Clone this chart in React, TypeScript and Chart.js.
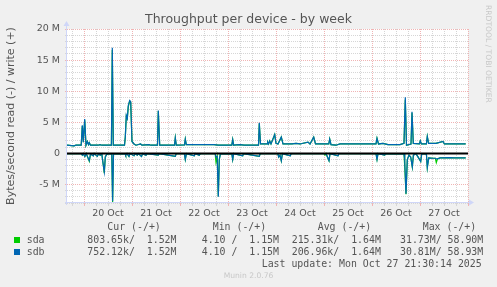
import React, { useEffect, useRef } from 'react';
import { Chart, registerables } from 'chart.js';

Chart.register(...registerables);

// ---- data (hours since 19 Oct 00:00, values in M bytes/s) ----
const writeHours = [
  15.5, 19, 20, 22.6, 23.15, 23.65, 24.35, 25, 25.65, 26.25, 26.65, 27.25, 31, 32, 33,
  37.7, 38.15, 38.65, 44.25, 44.65, 45.15, 45.65, 46.15, 46.85, 47.35, 48, 49, 50,
  52.3, 53, 56.5, 57.5, 60.75, 61.15, 61.85, 66, 69.25, 69.65, 70.15, 74.25, 74.65,
  75.15, 89, 91, 97.9, 98.35, 98.8, 102, 104, 111.25, 111.65, 112.25, 115.5, 115.85,
  116.3, 116.85, 117.5, 119.35, 120, 121, 122.65, 123.5, 128, 130, 132, 136, 137,
  138.85, 139.75, 146.4, 146.85, 147.5, 150, 152, 170, 170.5, 171.25, 173.5, 176,
  182, 184, 184.65, 185.25, 187.5, 188, 188.65, 191.7, 192.15, 192.7, 195.2, 195.65,
  196.3, 200, 203.5, 204.2, 214.85,
];
const sdbWrite = [
  1.3, 1.2, 1.3, 1.3, 4.5, 1.8, 5.5, 1.3, 1.9, 1.4, 1.7, 1.3, 1.3, 1.4, 1.3,
  1.3, 17.0, 1.3, 1.3, 2.6, 6.1, 5.6, 7.7, 8.5, 8.3, 1.9, 1.5, 1.3,
  1.5, 1.3, 1.4, 1.3, 1.3, 6.9, 1.3, 1.3, 1.3, 2.5, 1.3, 1.35, 2.3,
  1.4, 1.4, 1.3, 1.3, 2.2, 1.3, 1.4, 1.3, 1.3, 4.9, 1.5, 1.5, 1.8,
  1.5, 2.0, 1.5, 3.0, 1.6, 1.5, 2.6, 1.5, 1.5, 1.6, 1.5, 1.8, 1.5,
  2.6, 1.5, 1.5, 2.3, 1.4, 1.3, 1.5, 1.5, 2.4, 1.5, 1.6, 1.4,
  1.4, 1.6, 9.0, 1.3, 1.5, 6.7, 1.6, 1.5, 2.0, 1.5, 1.5, 2.7,
  1.6, 1.6, 1.9, 1.5, 1.5,
];
const sdaWrite = [
  1.3, 1.2, 1.3, 1.3, 4.4, 1.8, 5.3, 1.3, 1.9, 1.4, 1.7, 1.3, 1.3, 1.4, 1.3,
  1.3, 16.6, 1.3, 1.3, 2.6, 6.0, 5.6, 7.5, 8.4, 8.2, 1.9, 1.5, 1.3,
  1.5, 1.3, 1.4, 1.3, 1.3, 6.8, 1.3, 1.3, 1.3, 2.5, 1.3, 1.35, 2.3,
  1.4, 1.4, 1.3, 1.3, 2.2, 1.3, 1.4, 1.3, 1.3, 4.8, 1.5, 1.5, 1.8,
  1.5, 2.0, 1.5, 3.0, 1.6, 1.5, 2.6, 1.5, 1.5, 1.6, 1.5, 1.8, 1.5,
  2.6, 1.5, 1.5, 2.3, 1.4, 1.3, 1.5, 1.5, 2.4, 1.5, 1.6, 1.4,
  1.4, 1.6, 8.6, 1.3, 1.5, 6.5, 1.6, 1.5, 2.0, 1.5, 1.5, 2.7,
  1.6, 1.6, 1.9, 1.5, 1.5,
];

const readHours = [
  15.5, 22.7, 23.15, 23.6, 24.45, 25.1, 26.65, 27.25, 28.65, 29.1, 30.65, 31.25, 32.15,
  32.9, 33.65, 34.15, 34.65, 35.35, 36, 37.9, 38.3, 38.75, 44.6, 44.85, 45.5, 46.5, 47,
  49, 49.5, 50.65, 51.2, 52.75, 53.3, 55, 55.5, 61.15, 61.6, 69.65, 70.1, 74.2, 74.65,
  75.2, 79.15, 79.6, 81.65, 82.1, 89.6, 90, 90.6, 91.15, 91.65, 92.2, 97.9, 98.35,
  98.8, 103.35, 103.8, 111.65, 112.1, 120.9, 121.35, 122, 122.65, 123.2, 127.15, 127.6,
  144, 144.5, 145, 146.5, 147, 151, 151.5, 170, 170.5, 171, 174.35, 174.8, 184, 184.35,
  185, 185.65, 186.5, 187.35, 188.15, 188.7, 190, 192.35, 192.85, 195.2, 195.65, 196.35,
  198.5, 199.7, 200.15, 200.75, 202, 207, 209, 214.85,
];
const sdbRead = [
  0.05, 0.05, 0.3, 0.05, 0.5, 0.05, 1.2, 0.1, 0.4, 0.05, 0.5, 0.1, 0.3,
  0.1, 1.9, 3.0, 0.6, 0.2, 0.05, 0.1, 7.7, 0.1, 0.05, 0.3, 0.05, 0.5, 0.05,
  0.4, 0.05, 0.3, 0.05, 0.5, 0.05, 0.3, 0.05, 0.3, 0.05, 0.5, 0.05, 0.05, 1.0,
  0.05, 0.4, 0.05, 0.3, 0.05, 0.05, 0.6, 0.5, 7.0, 1.0, 0.1, 0.05, 1.0,
  0.05, 0.4, 0.05, 0.5, 0.05, 0.05, 0.6, 0.3, 1.2, 0.05, 0.4, 0.05,
  0.05, 0.1, 0.05, 1.2, 0.05, 0.4, 0.05, 0.05, 1.0, 0.05, 0.3, 0.05, 0.1, 1.0,
  6.5, 1.0, 0.3, 0.6, 2.2, 0.3, 0.05, 1.3, 0.1, 0.1, 2.3, 0.75,
  0.8, 0.8, 0.9, 0.9, 0.75, 0.7, 0.75, 0.75,
];
const sdaRead = [
  0.05, 0.05, 0.3, 0.05, 0.5, 0.05, 1.3, 0.1, 0.4, 0.05, 0.5, 0.1, 0.3,
  0.1, 1.9, 3.2, 0.6, 0.2, 0.05, 0.1, 7.9, 0.1, 0.05, 0.3, 0.05, 0.5, 0.05,
  0.4, 0.05, 0.3, 0.05, 0.5, 0.05, 0.3, 0.05, 0.3, 0.05, 0.5, 0.05, 0.05, 1.0,
  0.05, 0.4, 0.05, 0.3, 0.05, 0.05, 1.4, 0.5, 6.9, 1.0, 0.1, 0.05, 1.0,
  0.05, 0.4, 0.05, 0.5, 0.05, 0.05, 0.6, 0.3, 1.2, 0.05, 0.4, 0.05,
  0.05, 0.3, 0.05, 1.2, 0.05, 0.4, 0.05, 0.05, 1.0, 0.05, 0.3, 0.05, 0.1, 2.0,
  6.6, 1.0, 0.3, 0.6, 2.2, 0.3, 0.05, 1.3, 0.1, 0.1, 2.3, 0.75,
  0.8, 0.8, 1.5, 0.9, 0.75, 0.7, 0.75, 0.75,
];

// ---- axes / labels ----
const xTickHours = [18, 24, 30, 36, 42, 48, 54, 60, 66, 72, 78, 84, 90, 96, 102, 108, 114, 120,
  126, 132, 138, 144, 150, 156, 162, 168, 174, 180, 186, 192, 198, 204, 210, 216];
const dayLabels = ['20 Oct', '21 Oct', '22 Oct', '23 Oct', '24 Oct', '25 Oct', '26 Oct', '27 Oct'];
const yTickValues = [-8, -7, -6, -5, -4, -3, -2, -1, 0, 1, 2, 3, 4, 5, 6, 7, 8, 9, 10,
  11, 12, 13, 14, 15, 16, 17, 18, 19, 20];
const yMajorLabels: Record<number, string> = { 20: '20 M', 15: '15 M', 10: '10 M', 5: '5 M', 0: '0', [-5]: '-5 M' };

const seriesNames = ['sda', 'sdb'];
const seriesColors = ['#00CC00', '#0066B3'];
const legendHeaders = ['Cur (-/+)', 'Min (-/+)', 'Avg (-/+)', 'Max (-/+)'];
const sdaStats = ['803.65k/  1.52M', '4.10 /  1.15M', '215.31k/  1.64M', '31.73M/ 58.90M'];
const sdbStats = ['752.12k/  1.52M', '4.10 /  1.15M', '206.96k/  1.64M', '30.81M/ 58.93M'];
const lastUpdate = 'Last update: Mon Oct 27 21:30:14 2025';
const footer = 'Munin 2.0.76';
const watermark = 'RRDTOOL / TOBI OETIKER';

const M = 1e6;
const FONT_COLOR = '#555555';
const RED_GRID = '#F0B4B4';
const GRAY_GRID = '#D6D6D6';
const AXIS_COLOR = '#CFD6F8';

const toPts = (hours: number[], vals: number[], sign: number) =>
  hours.map((h, i) => ({ x: h, y: sign * vals[i] * M }));

const decorPlugin = {
  id: 'muninDecor',
  beforeDraw(chart: any) {
    const { ctx, chartArea: a, width, height } = chart;
    ctx.save();
    ctx.fillStyle = '#F0F0F0';
    ctx.fillRect(0, 0, width, height);
    ctx.fillStyle = '#FFFFFF';
    ctx.fillRect(a.left, a.top, a.right - a.left, a.bottom - a.top);
    ctx.restore();
  },
  afterDatasetsDraw(chart: any) {
    const { ctx, chartArea: a } = chart;
    const y0 = chart.scales.y.getPixelForValue(0);
    ctx.save();
    ctx.strokeStyle = '#000000';
    ctx.lineWidth = 2;
    ctx.beginPath();
    ctx.moveTo(a.left, y0 + 0.3);
    ctx.lineTo(a.right, y0 + 0.3);
    ctx.stroke();
    // axes with arrows
    ctx.strokeStyle = AXIS_COLOR;
    ctx.fillStyle = AXIS_COLOR;
    ctx.lineWidth = 1;
    const lx = a.left - 0.5;
    const by = a.bottom - 0.5;
    ctx.beginPath();
    ctx.moveTo(lx, a.bottom + 2);
    ctx.lineTo(lx, a.top - 3);
    ctx.moveTo(a.left - 2, by);
    ctx.lineTo(a.right + 1, by);
    ctx.stroke();
    ctx.beginPath();
    ctx.moveTo(lx - 3, a.top - 3);
    ctx.lineTo(lx + 3, a.top - 3);
    ctx.lineTo(lx, a.top - 8);
    ctx.closePath();
    ctx.fill();
    ctx.beginPath();
    ctx.moveTo(a.right + 1, by - 3);
    ctx.lineTo(a.right + 1, by + 3);
    ctx.lineTo(a.right + 6, by);
    ctx.closePath();
    ctx.fill();
    ctx.restore();
  },
  afterDraw(chart: any) {
    const { ctx } = chart;
    ctx.save();
    ctx.font = '9.9px "DejaVu Sans Mono"';
    ctx.fillStyle = FONT_COLOR;
    ctx.textBaseline = 'middle';
    ctx.textAlign = 'left';
    const headerX = [107.3, 212.7, 317.7, 422.7];
    const statX = [87.3, 201.7, 291.7, 400];
    legendHeaders.forEach((t, i) => ctx.fillText(t, headerX[i], 227.5));
    const rows = [sdaStats, sdbStats];
    const rowY = [240, 252];
    rows.forEach((stats, r) => {
      ctx.fillStyle = seriesColors[r];
      ctx.fillRect(14, rowY[r] - 3, 6, 6);
      ctx.fillStyle = FONT_COLOR;
      ctx.fillText(seriesNames[r], 26.7, rowY[r]);
      stats.forEach((t, i) => ctx.fillText(t, statX[i], rowY[r]));
    });
    ctx.fillText(lastUpdate, 261.7, 264);
    ctx.font = '7.6px "DejaVu Sans"';
    ctx.fillStyle = '#C8C8C8';
    ctx.textAlign = 'center';
    ctx.fillText(footer, 248.5, 276.5);
    ctx.translate(488, 5);
    ctx.rotate(Math.PI / 2);
    ctx.textAlign = 'left';
    ctx.fillText(watermark, 0, 0);
    ctx.restore();
  },
};

export default function App() {
  const ref = useRef<HTMLCanvasElement | null>(null);

  useEffect(() => {
    document.body.style.margin = '0';
    const canvas = ref.current;
    if (!canvas) return;
    const chart = new Chart(canvas, {
      type: 'line',
      data: {
        datasets: [
          { label: 'sdb read', data: toPts(readHours, sdbRead, -1), borderColor: seriesColors[1] },
          { label: 'sdb write', data: toPts(writeHours, sdbWrite, 1), borderColor: seriesColors[1] },
          { label: 'sda read', data: toPts(readHours, sdaRead, -1), borderColor: seriesColors[0] },
          { label: 'sda write', data: toPts(writeHours, sdaWrite, 1), borderColor: seriesColors[0] },
        ].map((d) => ({ ...d, borderWidth: 1.2, pointRadius: 0, tension: 0, fill: false })),
      },
      options: {
        animation: false,
        responsive: false,
        devicePixelRatio: 1,
        layout: { padding: 0 },
        plugins: {
          legend: { display: false },
          tooltip: { enabled: false },
          title: {
            display: true,
            text: 'Throughput per device - by week',
            color: FONT_COLOR,
            font: { family: 'DejaVu Sans', size: 12.5, weight: 'normal', lineHeight: 1.2 },
            padding: { top: 12, bottom: 2 },
          },
        },
        scales: {
          x: {
            type: 'linear',
            min: 15.5,
            max: 216,
            afterBuildTicks: (s: any) => { s.ticks = xTickHours.map((v) => ({ value: v })); },
            afterFit: (s: any) => { s.height = 84; },
            ticks: {
              autoSkip: false,
              maxRotation: 0,
              padding: 2,
              color: FONT_COLOR,
              font: { family: 'DejaVu Sans', size: 9.5 },
              callback: (v: any) => {
                const h = Number(v);
                return h % 24 === 12 ? dayLabels[Math.floor(h / 24) - 1] ?? '' : '';
              },
            },
            grid: {
              color: (c: any) => (c.tick && c.tick.value % 24 === 0 ? RED_GRID : GRAY_GRID),
              lineWidth: 1,
              tickLength: 3,
            },
            border: { display: false, dash: [1, 1] },
          },
          y: {
            type: 'linear',
            position: 'left',
            min: -8 * M,
            max: 20 * M,
            afterBuildTicks: (s: any) => { s.ticks = yTickValues.map((v) => ({ value: v * M })); },
            afterFit: (s: any) => { s.width = 67; },
            ticks: {
              autoSkip: false,
              padding: 5,
              color: FONT_COLOR,
              font: { family: 'DejaVu Sans', size: 9.5 },
              callback: (v: any) => yMajorLabels[Math.round(Number(v) / M)] ?? '',
            },
            grid: {
              color: (c: any) => {
                if (!c.tick) return GRAY_GRID;
                const m = Math.round(c.tick.value / M);
                if (m === 0) return 'rgba(0,0,0,0)';
                return m % 5 === 0 ? RED_GRID : GRAY_GRID;
              },
              lineWidth: 1,
              tickLength: 2,
            },
            border: { display: false, dash: [1, 1] },
            title: {
              display: true,
              text: 'Bytes/second read (-) / write (+)',
              color: FONT_COLOR,
              font: { family: 'DejaVu Sans', size: 11 },
              padding: { top: 5, bottom: 0 },
            },
          },
          y2: {
            type: 'linear',
            position: 'right',
            afterFit: (s: any) => { s.width = 29; },
            ticks: { display: false },
            grid: { display: false },
            border: { display: false },
          },
        },
      },
      plugins: [decorPlugin],
    } as any);
    return () => chart.destroy();
  }, []);

  return <canvas ref={ref} width={497} height={287} style={{ display: 'block' }} />;
}
